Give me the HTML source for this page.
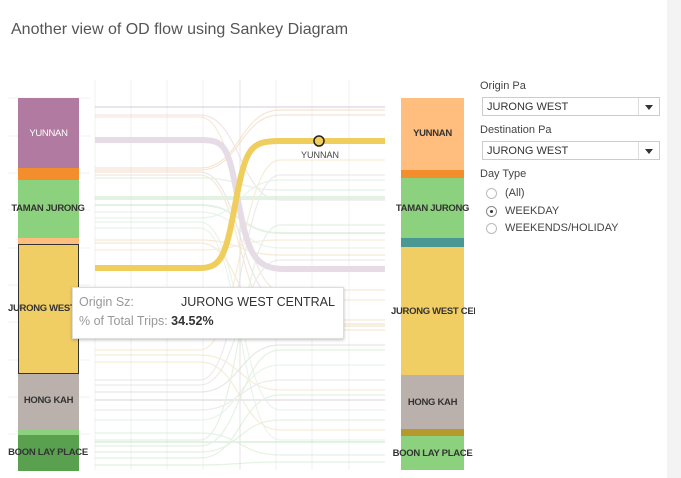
<!DOCTYPE html>
<html><head><meta charset="utf-8"><style>
body{margin:0;width:681px;height:478px;background:#fff;font-family:"Liberation Sans",sans-serif;position:relative;overflow:hidden}
.t{position:absolute;white-space:nowrap}
.lbl{font-size:9.5px;letter-spacing:-0.3px;font-weight:bold;color:#333;text-align:center;position:absolute;white-space:nowrap;overflow:hidden}
.dd{position:absolute;left:482px;width:178px;height:19px;border:1px solid #ccc;font-size:11px;color:#333;line-height:19px;padding-left:4px;box-sizing:border-box}
.dd:after{content:"";position:absolute;right:6px;top:7px;border-left:4px solid transparent;border-right:4px solid transparent;border-top:5px solid #333}
.dd:before{content:"";position:absolute;right:20px;top:0;height:17px;border-left:1px solid #ddd}
.rad{position:absolute;left:486px;width:11px;height:11px;border:1px solid #bbb;border-radius:50%;box-sizing:border-box}
.rt{position:absolute;left:505px;font-size:11px;color:#444}
</style></head><body>
<div class="t" style="left:11px;top:21px;font-size:16px;color:#555">Another view of OD flow using Sankey Diagram</div>
<div style="position:absolute;left:667px;top:0;width:14px;height:478px;background:#f3f3f3"></div>
<svg style="position:absolute;left:0;top:0" width="681" height="478">
<g stroke="#f0f0f0" stroke-width="1">
<line x1="95" y1="80" x2="95" y2="470"/><line x1="131" y1="80" x2="131" y2="470"/><line x1="167" y1="80" x2="167" y2="470"/><line x1="203" y1="80" x2="203" y2="470"/><line x1="276" y1="80" x2="276" y2="470"/><line x1="312" y1="80" x2="312" y2="470"/><line x1="349" y1="80" x2="349" y2="470"/>
<line x1="240" y1="80" x2="240" y2="470" stroke="#e4e4e4"/>
<line x1="8" y1="98" x2="90" y2="98"/><line x1="8" y1="136" x2="90" y2="136"/><line x1="8" y1="173" x2="90" y2="173"/><line x1="8" y1="210" x2="90" y2="210"/><line x1="8" y1="248" x2="90" y2="248"/><line x1="8" y1="285" x2="90" y2="285"/><line x1="8" y1="322" x2="90" y2="322"/><line x1="8" y1="360" x2="90" y2="360"/><line x1="8" y1="397" x2="90" y2="397"/><line x1="8" y1="434" x2="90" y2="434"/>
</g>
<g fill="none" stroke-width="1.2" opacity="0.55">
<path d="M95 107H385" stroke="#d8cfe0" stroke-width="2"/>
<path d="M95 115H200C240 115 240 200 280 200H385" stroke="#e8d0d8"/>
<path d="M95 117H200C240 117 240 290 280 290H385" stroke="#f0d8c0"/>
<path d="M95 168H200C240 168 240 110 280 110H385" stroke="#f0d0b0"/>
<path d="M95 170H200C240 170 240 115 280 115H385" stroke="#f0d0b0"/>
<path d="M95 172H200C240 172 240 300 280 300H385" stroke="#e0d0d0"/>
<path d="M95 175H200C240 175 240 320 280 320H385" stroke="#f0d8b8"/>
<path d="M95 178H200C240 178 240 190 280 190H385" stroke="#d0e8d0"/>
<path d="M95 198H385" stroke="#cfe8cf" stroke-width="4"/>
<path d="M95 205H200C240 205 240 233 280 233H385" stroke="#cfe8cf" stroke-width="2"/>
<path d="M95 212H200C240 212 240 248 280 248H385" stroke="#d8ecd8"/>
<path d="M95 218H200C240 218 240 180 280 180H385" stroke="#d8ecd8"/>
<path d="M95 222H200C240 222 240 410 280 410H385" stroke="#d8ecd8"/>
<path d="M95 228H200C240 228 240 440 280 440H385" stroke="#d8ecd8"/>
<path d="M95 240H200C240 240 240 255 280 255H385" stroke="#f0d8b8"/>
<path d="M95 243H200C240 243 240 330 280 330H385" stroke="#f0d8b8"/>
<path d="M95 250H200C240 250 240 240 280 240H385" stroke="#f0e0c0"/>
<path d="M95 300H385" stroke="#f0e4c8"/>
<path d="M95 325H385" stroke="#f0e4c8" stroke-width="4"/>
<path d="M95 350H200C240 350 240 160 280 160H385" stroke="#f0e0b8"/>
<path d="M95 355H200C240 355 240 390 280 390H385" stroke="#f0e0b8"/>
<path d="M95 362H200C240 362 240 430 280 430H385" stroke="#f0e0b8"/>
<path d="M95 380H200C240 380 240 175 280 175H385" stroke="#e0dcdc"/>
<path d="M95 385H200C240 385 240 260 280 260H385" stroke="#e0dcdc"/>
<path d="M95 392H200C240 392 240 345 280 345H385" stroke="#d8d4d4"/>
<path d="M95 400H385" stroke="#dcd8d8" stroke-width="2"/>
<path d="M95 410H200C240 410 240 380 280 380H385" stroke="#e0dcdc"/>
<path d="M95 420H200C240 420 240 365 280 365H385" stroke="#d8ecd8"/>
<path d="M95 433H200C240 433 240 455 280 455H385" stroke="#cfe8cf"/>
<path d="M95 440H200C240 440 240 225 280 225H385" stroke="#cfe8cf"/>
<path d="M95 446H200C240 446 240 350 280 350H385" stroke="#cfe8cf"/>
<path d="M95 452H200C240 452 240 420 280 420H385" stroke="#cfe8cf"/>
<path d="M95 458H200C240 458 240 395 280 395H385" stroke="#cfe8cf"/>
<path d="M95 465H200C240 465 240 462 280 462H385" stroke="#cfe8cf"/>
<path d="M95 442H385" stroke="#cfe8cf" stroke-width="2"/>
</g>
<path d="M95 140H200C225 140 228 145 238 200C248 255 255 269 285 269H385" fill="none" stroke="#e6dce6" stroke-width="6"/>
<path d="M95 268H200C222 268 226 255 236 200C246 148 250 141 280 141H385" fill="none" stroke="#f0ce5e" stroke-width="6"/>
<circle cx="319" cy="141" r="5" fill="#f0ce5e" stroke="#222" stroke-width="1.5"/>
<text x="320" y="158" font-size="9" fill="#444" text-anchor="middle" font-family="Liberation Sans">YUNNAN</text>
</svg>
<div style="position:absolute;left:18px;top:98px;width:61px;height:70px;background:#b07aa1"></div>
<div style="position:absolute;left:18px;top:168px;width:61px;height:12px;background:#f28e2b"></div>
<div style="position:absolute;left:18px;top:180px;width:61px;height:58px;background:#8cd17d"></div>
<div style="position:absolute;left:18px;top:238px;width:61px;height:6px;background:#ffbe7d"></div>
<div style="position:absolute;left:18px;top:244px;width:61px;height:130px;background:#f1ce63;border:1px solid #333;box-sizing:border-box"></div>
<div style="position:absolute;left:18px;top:374px;width:61px;height:56px;background:#bab0ac"></div>
<div style="position:absolute;left:18px;top:430px;width:61px;height:5px;background:#8cd17d"></div>
<div style="position:absolute;left:18px;top:435px;width:61px;height:36px;background:#59a14f"></div>
<div class="lbl" style="left:18px;width:61px;top:128px;color:#fff;font-weight:normal">YUNNAN</div>
<div class="lbl" style="left:6px;width:84px;top:203px">TAMAN JURONG</div>
<div class="lbl" style="left:8px;width:64px;top:303px">JURONG WEST</div>
<div class="lbl" style="left:18px;width:61px;top:395px">HONG KAH</div>
<div class="lbl" style="left:6px;width:84px;top:447px">BOON LAY PLACE</div>
<div style="position:absolute;left:401px;top:98px;width:63px;height:72px;background:#ffbe7d"></div>
<div style="position:absolute;left:401px;top:170px;width:63px;height:8px;background:#f28e2b"></div>
<div style="position:absolute;left:401px;top:178px;width:63px;height:60px;background:#8cd17d"></div>
<div style="position:absolute;left:401px;top:238px;width:63px;height:9px;background:#499894"></div>
<div style="position:absolute;left:401px;top:247px;width:63px;height:128px;background:#f1ce63"></div>
<div style="position:absolute;left:401px;top:375px;width:63px;height:54px;background:#bab0ac"></div>
<div style="position:absolute;left:401px;top:429px;width:63px;height:7px;background:#b6992d"></div>
<div style="position:absolute;left:401px;top:436px;width:63px;height:34px;background:#8cd17d"></div>
<div class="lbl" style="left:401px;width:63px;top:128px">YUNNAN</div>
<div class="lbl" style="left:389px;width:87px;top:203px">TAMAN JURONG</div>
<div class="lbl" style="left:391px;width:84px;top:306px">JURONG WEST CEN</div>
<div class="lbl" style="left:401px;width:63px;top:397px">HONG KAH</div>
<div class="lbl" style="left:389px;width:87px;top:448px">BOON LAY PLACE</div>
<div style="position:absolute;left:72px;top:287px;width:270px;height:50px;background:#fff;border:1px solid #ddd;box-shadow:0 1px 3px rgba(0,0,0,0.25)"></div>
<div class="t" style="left:79px;top:295px;font-size:12.5px;color:#999">Origin Sz:</div>
<div class="t" style="left:181px;top:295px;font-size:12.5px;color:#333">JURONG WEST CENTRAL</div>
<div class="t" style="left:79px;top:314px;font-size:12.5px;color:#999">% of Total Trips: <span style="color:#333;font-weight:bold">34.52%</span></div>
<div class="t" style="left:480px;top:80px;font-size:11px;color:#444">Origin Pa</div>
<div class="dd" style="top:97px">JURONG WEST</div>
<div class="t" style="left:480px;top:124px;font-size:11px;color:#444">Destination Pa</div>
<div class="dd" style="top:141px">JURONG WEST</div>
<div class="t" style="left:480px;top:168px;font-size:11px;color:#444">Day Type</div>
<div class="rad" style="top:188px"></div><div class="rt" style="top:187px">(All)</div>
<div class="rad" style="top:206px;border-color:#888"><div style="position:absolute;left:3px;top:3px;width:3px;height:3px;border-radius:50%;background:#333"></div></div><div class="rt" style="top:205px">WEEKDAY</div>
<div class="rad" style="top:223px"></div><div class="rt" style="top:222px">WEEKENDS/HOLIDAY</div>
</body></html>
